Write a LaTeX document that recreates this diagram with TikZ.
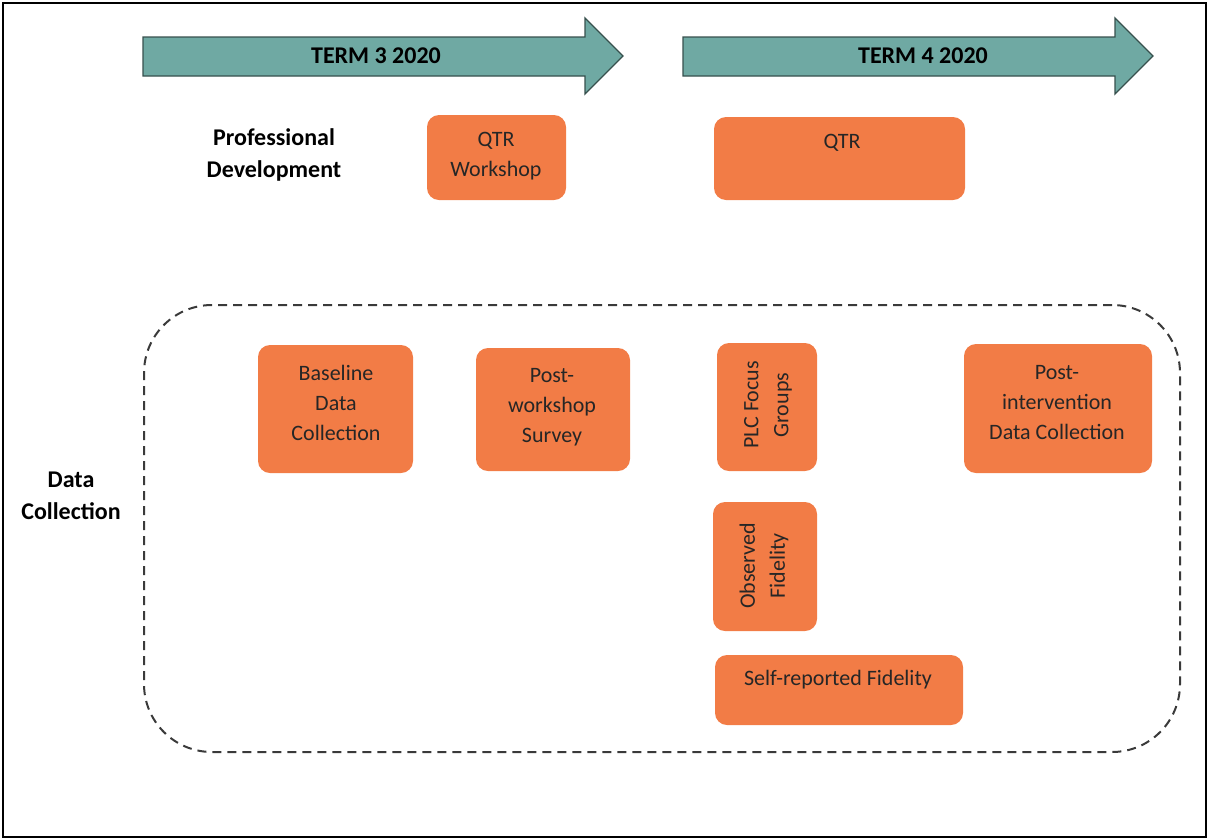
\documentclass[tikz,border=0pt]{standalone}
\usepackage{fontspec}
\setmainfont{Carlito}
\definecolor{orangebox}{HTML}{F27C46}
\definecolor{tealfill}{HTML}{6FA9A3}
\definecolor{tealedge}{HTML}{37504D}
\definecolor{dashgray}{HTML}{3A3A3A}
\begin{document}
\begin{tikzpicture}[x=1pt,y=-1pt,
  box/.style={fill=orangebox, draw=none, rounded corners=12pt, inner sep=0pt},
  txt/.style={font=\fontsize{22}{30}\selectfont, align=center, text=black!85, inner sep=0pt},
  lbl/.style={font=\fontsize{24}{32}\selectfont\bfseries, align=center, inner sep=0pt},
  termarrow/.style={fill=tealfill, draw=tealedge, line width=1.3pt, line join=miter},
  group/.style={draw=dashgray, line width=2pt, dash pattern=on 9pt off 6pt, rounded corners=68pt, inner sep=0pt}]
\useasboundingbox (0,0) rectangle (1208,839);
\draw[line width=2pt] (3,3) rectangle (1206,837);

% term arrows
\draw[termarrow] (143,37) -- (585,37) -- (585,18) -- (623,56) -- (585,94) -- (585,76) -- (143,76) -- cycle;
\node[lbl] (t3) at (376,56) {TERM 3 2020};
\draw[termarrow] (683,37) -- (1115,37) -- (1115,18) -- (1153,56) -- (1115,94) -- (1115,76) -- (683,76) -- cycle;
\node[lbl] (t4) at (923,56) {TERM 4 2020};

% row labels
\node[lbl] (pd) at (274,155) {Professional\\Development};
\node[lbl] (dcl) at (71,496) {Data\\Collection};

% professional development
\node[box, minimum width=139pt, minimum height=85pt] (qtrw) at (496.5,157.5) {};
\node[txt] (qtrwt) at (496,156) {QTR\\Workshop};
\node[box, minimum width=251pt, minimum height=83pt] (qtr) at (839.5,158.5) {};
\node[txt] (qtrt) at (842,143) {QTR};

% data collection group
\node[group, minimum width=1036pt, minimum height=447pt] (dc) at (662,528.5) {};

\node[box, minimum width=155pt, minimum height=128pt] (base) at (335.5,409) {};
\node[txt] (baset) at (336,403) {Baseline\\Data\\Collection};
\node[box, minimum width=154pt, minimum height=123pt] (pws) at (553,409.5) {};
\node[txt] (pwst) at (552,407) {Post-\\workshop\\Survey};
\node[box, minimum width=100pt, minimum height=128pt] (plc) at (767,407) {};
\node[txt, rotate=90] (plct) at (768,405) {PLC Focus\\Groups};
\node[box, minimum width=104pt, minimum height=129pt] (obs) at (765,566.5) {};
\node[txt, rotate=90] (obst) at (764,566) {Observed\\Fidelity};
\node[box, minimum width=248pt, minimum height=70pt] (srf) at (839,690) {};
\node[txt] (srft) at (838,680) {Self-reported Fidelity};
\node[box, minimum width=188pt, minimum height=129pt] (pid) at (1058,408.5) {};
\node[txt] (pidt) at (1057,403) {Post-\\intervention\\Data Collection};
\end{tikzpicture}
\end{document}
